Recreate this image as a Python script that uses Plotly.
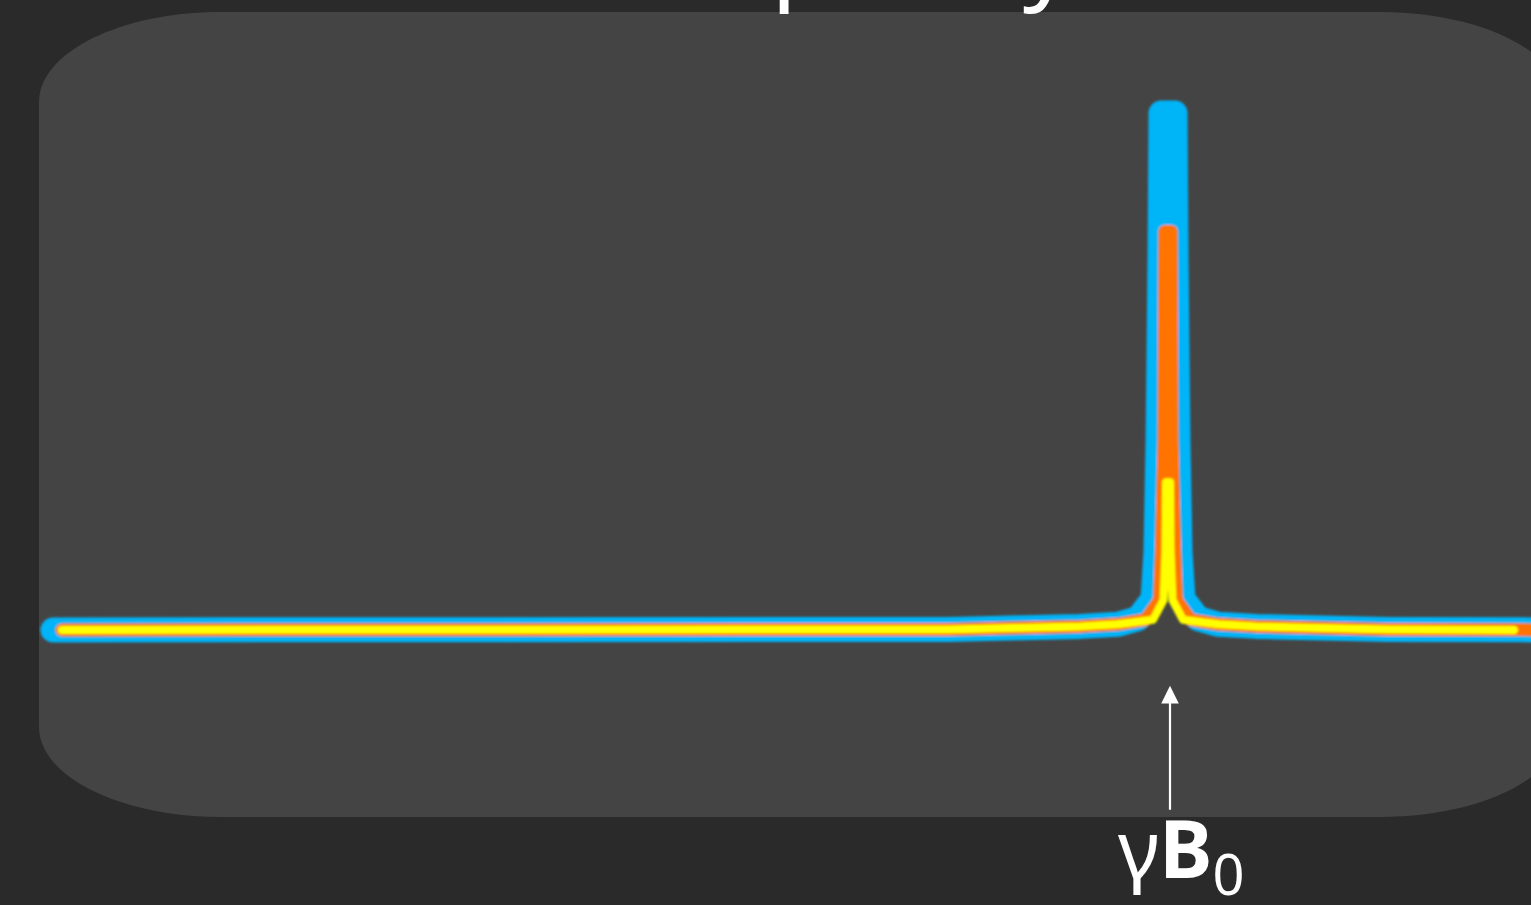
import plotly.graph_objects as go

# ---- spectrum data (frequency in arbitrary units, amplitude normalised) ----
larmor_freq = 75.0

blue_freq = [0, 60.2, 69.08, 71.64, 72.98, 73.99, 74.19, 74.33, 74.46, 74.53,
             75.47, 75.54, 75.67, 75.81, 76.01, 77.02, 78.36, 80.92, 89.8, 102]
blue_amp = [0, 0.0012, 0.007, 0.011, 0.022, 0.06, 0.151, 0.367, 0.72, 1.0,
            1.0, 0.72, 0.367, 0.151, 0.06, 0.022, 0.011, 0.007, 0.0012, 0]

orange_freq = [0.6, 60.2, 69.1, 71.6, 73.5, 74.43, 74.55, 74.73, 74.79,
               75.21, 75.27, 75.45, 75.57, 76.5, 78.4, 80.9, 89.8, 102]
orange_amp = [0, 0.0012, 0.007, 0.011, 0.02, 0.058, 0.15, 0.367, 0.771,
              0.771, 0.367, 0.15, 0.058, 0.02, 0.011, 0.007, 0.0012, 0]

yellow_freq = [0.6, 60.2, 69.1, 71.6, 74.0, 74.7, 74.83, 74.87,
               75.13, 75.17, 75.3, 76.0, 78.4, 80.9, 89.8, 98.27]
yellow_amp = [0, 0.0012, 0.007, 0.011, 0.02, 0.058, 0.15, 0.286,
              0.286, 0.15, 0.058, 0.02, 0.011, 0.007, 0.0012, 0]

title_text = "Frequency"
peak_label = "γ<b>B</b><sub>0</sub>"

# ---- styling ----
W, H = 1531, 905
BG = "#2a2a2a"
PANEL = "#444444"
series = [
    (blue_freq, blue_amp, "#00b4f8", 25),
    (orange_freq, orange_amp, "#ff7300", 13),
    (yellow_freq, yellow_amp, "#ffff00", 8),
]

fig = go.Figure()
for fx, fy, col, lw in series:
    fig.add_trace(go.Scatter(
        x=fx, y=fy, mode="lines",
        line=dict(color=col, width=lw, simplify=False),
        hoverinfo="skip", showlegend=False,
    ))


def px(x):
    return x / W


def py(y):
    return 1 - y / H


# rounded panel behind the spectrum (elliptical corners via cubic Beziers)
L, R, T, B = 39, 1562, 12, 817
rx, ry = 182, 90
k = 0.5523
pts = [
    f"M {px(L + rx)},{py(T)}",
    f"L {px(R - rx)},{py(T)}",
    f"C {px(R - rx + k * rx)},{py(T)} {px(R)},{py(T + ry - k * ry)} {px(R)},{py(T + ry)}",
    f"L {px(R)},{py(B - ry)}",
    f"C {px(R)},{py(B - ry + k * ry)} {px(R - rx + k * rx)},{py(B)} {px(R - rx)},{py(B)}",
    f"L {px(L + rx)},{py(B)}",
    f"C {px(L + rx - k * rx)},{py(B)} {px(L)},{py(B - ry + k * ry)} {px(L)},{py(B - ry)}",
    f"L {px(L)},{py(T + ry)}",
    f"C {px(L)},{py(T + ry - k * ry)} {px(L + rx - k * rx)},{py(T)} {px(L + rx)},{py(T)}",
    "Z",
]
fig.add_shape(type="path", path=" ".join(pts), xref="paper", yref="paper",
              fillcolor=PANEL, line=dict(width=0), layer="below")

# title (sits mostly above the visible page)
fig.add_annotation(text=title_text, xref="paper", yref="paper",
                   x=px(588), y=py(21), xanchor="left", yanchor="bottom",
                   showarrow=False,
                   font=dict(family="Noto Sans", size=99, color="white"))

# arrow marking the Larmor frequency
fig.add_annotation(x=larmor_freq, y=-0.108, xref="x", yref="y", text=" ",
                   showarrow=True, ax=0, ay=126, axref="pixel", ayref="pixel",
                   arrowhead=2, arrowsize=1.6, arrowwidth=2.2,
                   arrowcolor="white", xshift=2,
                   font=dict(size=1))

fig.add_annotation(x=larmor_freq, y=py(790), xref="x", yref="paper",
                   text=peak_label, showarrow=False, xanchor="center",
                   yanchor="top", xshift=13,
                   font=dict(family="Noto Sans", size=80, color="white"))

scale = (1168 - 53) / larmor_freq
fig.update_layout(
    width=W, height=H,
    margin=dict(l=0, r=0, t=0, b=0),
    paper_bgcolor=BG, plot_bgcolor="rgba(0,0,0,0)",
    xaxis=dict(range=[-53 / scale, (W - 53) / scale], visible=False,
               fixedrange=True),
    yaxis=dict(range=[(630 - H) / 517, 630 / 517], visible=False,
               fixedrange=True),
)

# rounded joins and caps on the spectrum strokes, with a slightly soft edge
style_strokes = """
(function () {
  var svg = document.querySelector('.main-svg');
  var ns = 'http://www.w3.org/2000/svg';
  var defs = svg.querySelector('defs') || svg.insertBefore(document.createElementNS(ns, 'defs'), svg.firstChild);
  var f = document.createElementNS(ns, 'filter');
  f.setAttribute('id', 'soft-line');
  f.setAttribute('x', '-5%'); f.setAttribute('y', '-5%');
  f.setAttribute('width', '110%'); f.setAttribute('height', '110%');
  var g = document.createElementNS(ns, 'feGaussianBlur');
  g.setAttribute('stdDeviation', '0.9');
  f.appendChild(g);
  defs.appendChild(f);
  document.querySelectorAll('.scatterlayer .js-line').forEach(function (p) {
    p.style.strokeLinejoin = 'round';
    p.style.strokeLinecap = 'round';
  });
  var layer = document.querySelector('.scatterlayer');
  if (layer) { layer.setAttribute('filter', 'url(#soft-line)'); }
})();
"""

fig.write_html("out.html", config=dict(displayModeBar=False, responsive=False),
               post_script=style_strokes)
